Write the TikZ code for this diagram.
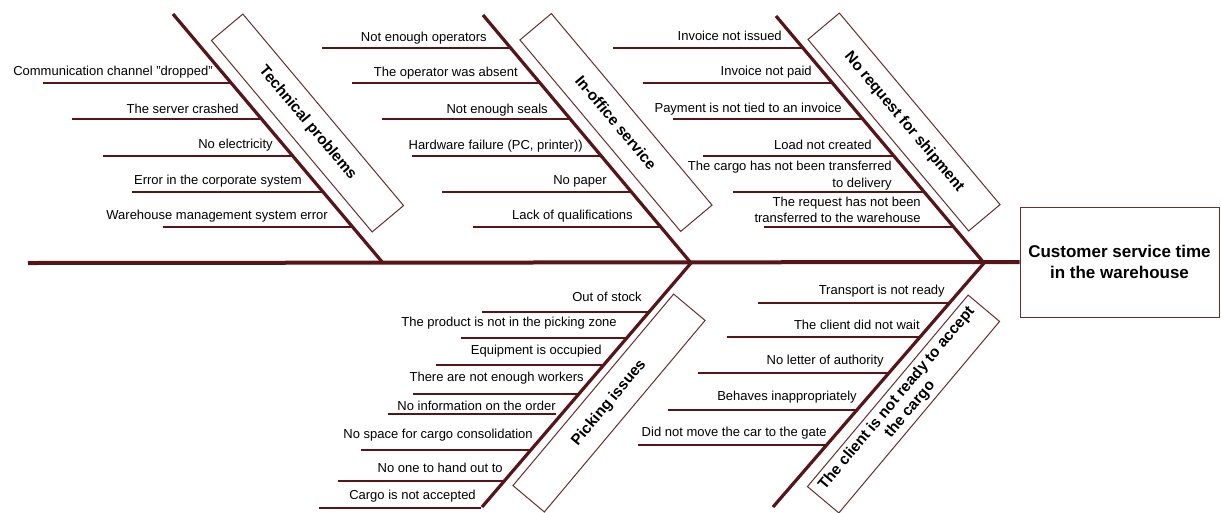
\documentclass[tikz,border=0pt]{standalone}
\usepackage{fontspec}
\setmainfont{Liberation Sans}
\definecolor{bone}{RGB}{88,20,22}
\definecolor{boxc}{RGB}{105,45,45}
\tikzstyle{spine}=[line width=3pt,bone]
\tikzstyle{branch}=[line width=2.4pt,bone]
\tikzstyle{twig}=[line width=1.2pt,bone]
\tikzstyle{cause}=[anchor=east,inner sep=0pt,align=right,font=\fontsize{9.75}{12.4}\selectfont]
\tikzstyle{catbox}=[draw=boxc,line width=0.75pt,minimum width=187.5pt,minimum height=30.75pt,inner sep=1pt,align=center,font=\fontsize{11.5}{13}\selectfont\bfseries]
\tikzstyle{effbox}=[draw=boxc,line width=0.75pt,minimum width=149.25pt,minimum height=82.5pt,align=center,font=\fontsize{12.75}{15.75}\selectfont\bfseries]

\begin{document}
\begin{tikzpicture}[x=0.75pt,y=-0.75pt]
		\useasboundingbox (0,0) rectangle (1221,512);
		% head and spine
		\node[effbox] (eff) at (1119.5,262) {Customer service time\\in the warehouse};
		\coordinate (tail) at (28,263);
		\coordinate (j0) at (383,263);
		\coordinate (j1) at (691,263);
		\coordinate (j2) at (984,263);
		\draw[spine] (tail) -- (eff.west);
		% bones
		\coordinate (tp) at (173,14);
		\coordinate (io) at (483,15);
		\coordinate (nr) at (776,16);
		\coordinate (pi) at (482,507);
		\coordinate (cl) at (773,507);
		\draw[branch] (tp)--(j0) (io)--(j1) (nr)--(j2) (j1)--(pi) (j2)--(cl);
		% categories
		\node[catbox,rotate=-50] (tpbox) at (307.5,123) {Technical problems};
		\node[catbox,rotate=-50] (iobox) at (616,122.5) {In-office service};
		\node[catbox,rotate=-50] (nrbox) at (904,122) {No request for shipment};
		\node[catbox,rotate=50] (pibox) at (609,403) {Picking issues};
		\node[catbox,rotate=50] (clbox) at (903.5,404) {The client is not ready to accept\\the cargo};
		% technical problems
		\coordinate (tp1a) at (43,83);   \coordinate (tp1b) at (231,83);
		\coordinate (tp2a) at (72,119);  \coordinate (tp2b) at (262,119);
		\coordinate (tp3a) at (103,156); \coordinate (tp3b) at (293,156);
		\coordinate (tp4a) at (132,192); \coordinate (tp4b) at (323,192);
		\coordinate (tp5a) at (163,227); \coordinate (tp5b) at (353,227);
		\node[cause] (tp1) at (213,72.5) {Communication channel "dropped"};
		\node[cause] (tp2) at (239,109) {The server crashed};
		\node[cause] (tp3) at (273,145) {No electricity};
		\node[cause] (tp4) at (302,181) {Error in the corporate system};
		\node[cause] (tp5) at (328,216) {Warehouse management system error};
		\draw[twig] (tp1a)--(tp1b) (tp2a)--(tp2b) (tp3a)--(tp3b) (tp4a)--(tp4b) (tp5a)--(tp5b);
		% in-office service
		\coordinate (io1a) at (322,48);  \coordinate (io1b) at (511,48);
		\coordinate (io2a) at (352,83);  \coordinate (io2b) at (540,83);
		\coordinate (io3a) at (382,119); \coordinate (io3b) at (570,119);
		\coordinate (io4a) at (412,156); \coordinate (io4b) at (601,156);
		\coordinate (io5a) at (442,192); \coordinate (io5b) at (631,192);
		\coordinate (io6a) at (473,227); \coordinate (io6b) at (661,227);
		\node[cause] (io1) at (487,38) {Not enough operators};
		\node[cause] (io2) at (518,73) {The operator was absent};
		\node[cause] (io3) at (548,110) {Not enough seals};
		\node[cause] (io4) at (583,146) {Hardware failure (PC, printer))};
		\node[cause] (io5) at (607,181) {No paper};
		\node[cause] (io6) at (633,216) {Lack of qualifications};
		\draw[twig] (io1a)--(io1b) (io2a)--(io2b) (io3a)--(io3b) (io4a)--(io4b) (io5a)--(io5b) (io6a)--(io6b);
		% no request for shipment
		\coordinate (nr1a) at (613,48);  \coordinate (nr1b) at (803,48);
		\coordinate (nr2a) at (643,83);  \coordinate (nr2b) at (832,83);
		\coordinate (nr3a) at (673,119); \coordinate (nr3b) at (863,119);
		\coordinate (nr4a) at (703,156); \coordinate (nr4b) at (894,156);
		\coordinate (nr5a) at (733,192); \coordinate (nr5b) at (924,192);
		\coordinate (nr6a) at (764,227); \coordinate (nr6b) at (954,227);
		\node[cause] (nr1) at (782,36) {Invoice not issued};
		\node[cause] (nr2) at (812,72) {Invoice not paid};
		\node[cause] (nr3) at (842,109) {Payment is not tied to an invoice};
		\node[cause] (nr4) at (872,145) {Load not created};
		\node[cause] (nr5) at (892,175.5) {The cargo has not been transferred\\to delivery};
		\node[cause] (nr6) at (921,210) {The request has not been\\transferred to the warehouse};
		\draw[twig] (nr1a)--(nr1b) (nr2a)--(nr2b) (nr3a)--(nr3b) (nr4a)--(nr4b) (nr5a)--(nr5b) (nr6a)--(nr6b);
		% picking issues
		\coordinate (pi1a) at (482,312); \coordinate (pi1b) at (649,312);
		\coordinate (pi2a) at (461,338); \coordinate (pi2b) at (627,338);
		\coordinate (pi3a) at (436,365); \coordinate (pi3b) at (604,365);
		\coordinate (pi4a) at (413,394); \coordinate (pi4b) at (579,394);
		\coordinate (pi5a) at (388,414); \coordinate (pi5b) at (556,414);
		\coordinate (pi6a) at (361,450); \coordinate (pi6b) at (531,450);
		\coordinate (pi7a) at (338,481); \coordinate (pi7b) at (504,481);
		\coordinate (pi8a) at (319,508); \coordinate (pi8b) at (481,508);
		\node[cause] (pi1) at (642,297) {Out of stock};
		\node[cause] (pi2) at (617,323) {The product is not in the picking zone};
		\node[cause] (pi3) at (602,351) {Equipment is occupied};
		\node[cause] (pi4) at (584,378) {There are not enough workers};
		\node[cause] (pi5) at (556,406) {No information on the order};
		\node[cause] (pi6) at (533,435) {No space for cargo consolidation};
		\node[cause] (pi7) at (503,468) {No one to hand out to};
		\node[cause] (pi8) at (476,496) {Cargo is not accepted};
		\draw[twig] (pi1a)--(pi1b) (pi2a)--(pi2b) (pi3a)--(pi3b) (pi4a)--(pi4b) (pi5a)--(pi5b) (pi6a)--(pi6b) (pi7a)--(pi7b) (pi8a)--(pi8b);
		% client not ready
		\coordinate (cl1a) at (758,303); \coordinate (cl1b) at (949,303);
		\coordinate (cl2a) at (727,337); \coordinate (cl2b) at (920,337);
		\coordinate (cl3a) at (698,373); \coordinate (cl3b) at (889,373);
		\coordinate (cl4a) at (668,410); \coordinate (cl4b) at (857,410);
		\coordinate (cl5a) at (638,445); \coordinate (cl5b) at (827,445);
		\node[cause] (cl1) at (945,291) {Transport is not ready};
		\node[cause] (cl2) at (920,325) {The client did not wait};
		\node[cause] (cl3) at (884,361) {No letter of authority};
		\node[cause] (cl4) at (857,397) {Behaves inappropriately};
		\node[cause] (cl5) at (827,433) {Did not move the car to the gate};
		\draw[twig] (cl1a)--(cl1b) (cl2a)--(cl2b) (cl3a)--(cl3b) (cl4a)--(cl4b) (cl5a)--(cl5b);
	\end{tikzpicture}
\end{document}
